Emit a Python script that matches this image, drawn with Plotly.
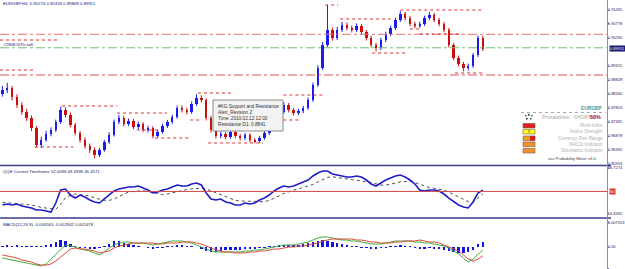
import plotly.graph_objects as go

# ---------------- DATA ----------------
bars = list(range(100))
first_open = 0.88340
closes = [
    0.88479, 0.88549, 0.88237, 0.87959, 0.87715, 0.87506, 0.87158, 0.86567, 0.86741, 0.86950,
    0.87089, 0.87367, 0.87785, 0.87611, 0.87263, 0.86984, 0.86741, 0.86532, 0.86393, 0.86219,
    0.86393, 0.86671, 0.86915, 0.87367, 0.87506, 0.87297, 0.87402, 0.87193, 0.87297, 0.87089,
    0.87158, 0.86880, 0.87019, 0.87228, 0.87367, 0.87541, 0.87854, 0.87785, 0.87715, 0.87994,
    0.88203, 0.88133, 0.87506, 0.87089, 0.86880, 0.86950, 0.86845, 0.87019, 0.86880, 0.86811,
    0.86915, 0.86741, 0.86706, 0.86811, 0.86984, 0.87158, 0.87437, 0.87715, 0.87959, 0.87785,
    0.87680, 0.87750, 0.87854, 0.88133, 0.88655, 0.89247, 0.90047, 0.90569, 0.90291, 0.90569,
    0.90743, 0.90639, 0.90569, 0.90708, 0.90499, 0.90291, 0.90047, 0.89943, 0.90221, 0.90430,
    0.90639, 0.90917, 0.91126, 0.90987, 0.90778, 0.90708, 0.90778, 0.90987, 0.91091, 0.90917,
    0.90778, 0.90569, 0.90047, 0.89595, 0.89386, 0.89247, 0.89317, 0.89699, 0.90291, 0.89911,
]
opens = [first_open] + closes[:-1]
highs = [
    0.88620, 0.88730, 0.88620, 0.88330, 0.88050, 0.87820, 0.87600, 0.87230, 0.86850, 0.87060,
    0.87180, 0.87450, 0.87900, 0.87880, 0.87700, 0.87340, 0.87060, 0.86830, 0.86620, 0.86480,
    0.86470, 0.86750, 0.87010, 0.87450, 0.87620, 0.87580, 0.87490, 0.87470, 0.87380, 0.87360,
    0.87240, 0.87220, 0.87100, 0.87300, 0.87440, 0.87620, 0.87940, 0.87950, 0.87860, 0.88080,
    0.88330, 0.88300, 0.88190, 0.87580, 0.87160, 0.87030, 0.87020, 0.87090, 0.87090, 0.86950,
    0.86990, 0.86980, 0.86810, 0.86880, 0.87060, 0.87230, 0.87510, 0.87800, 0.88060, 0.88030,
    0.87850, 0.87830, 0.87930, 0.88220, 0.88740, 0.89340, 0.90150, 0.91440, 0.90660, 0.90680,
    0.90860, 0.90830, 0.90720, 0.90800, 0.90780, 0.90570, 0.90370, 0.90120, 0.90300, 0.90510,
    0.90720, 0.91000, 0.91230, 0.91200, 0.91060, 0.90860, 0.90860, 0.91070, 0.91200, 0.91160,
    0.90990, 0.90850, 0.90640, 0.90120, 0.89680, 0.89460, 0.89400, 0.89770, 0.90380, 0.90360,
]
lows = [
    0.88250, 0.88380, 0.88120, 0.87860, 0.87620, 0.87400, 0.87050, 0.86480, 0.86460, 0.86680,
    0.86870, 0.87020, 0.87300, 0.87520, 0.87180, 0.86900, 0.86650, 0.86440, 0.86290, 0.86100,
    0.86150, 0.86330, 0.86600, 0.86860, 0.87290, 0.87220, 0.87230, 0.87120, 0.87110, 0.87010,
    0.87000, 0.86800, 0.86820, 0.86960, 0.87160, 0.87300, 0.87480, 0.87700, 0.87630, 0.87650,
    0.87930, 0.88050, 0.87420, 0.87000, 0.86790, 0.86800, 0.86760, 0.86780, 0.86800, 0.86720,
    0.86740, 0.86660, 0.86630, 0.86640, 0.86750, 0.86920, 0.87090, 0.87370, 0.87650, 0.87700,
    0.87600, 0.87610, 0.87680, 0.87790, 0.88070, 0.88590, 0.89180, 0.89980, 0.90200, 0.90220,
    0.90500, 0.90560, 0.90480, 0.90500, 0.90420, 0.90200, 0.89960, 0.89830, 0.89870, 0.90150,
    0.90360, 0.90570, 0.90850, 0.90900, 0.90700, 0.90630, 0.90640, 0.90710, 0.90920, 0.90840,
    0.90700, 0.90490, 0.89960, 0.89510, 0.89300, 0.89130, 0.89160, 0.89250, 0.89630, 0.89840,
]

# price axis labels
price_ticks = [0.91265, 0.90778, 0.90290, 0.89315, 0.88828, 0.88340, 0.87853, 0.87365, 0.86878, 0.86390, 0.85903]
price_labels = ["0.91265", "0.90778", "0.90290", "0.89315", "0.88828", "0.88340", "0.87853", "0.87365", "0.86878", "0.86390", "0.85903"]
current_price = 0.89911

# full-width dash-dot levels
dd_levels = [0.90420, 0.89950, 0.89003]
dd_colors = ["#e07070", "#70c070", "#d85858"]

# support / resistance dotted segments (start bar, end bar, level)
sr_x0 = [-0.5, -0.5, 12.3, 23.6, 27.7, 6.7, 31.5, 38.7, 40.3, 42.4, 57.9, 57.9, 66.5, 69.6, 76.2, 82.0, 84.0, 86.0, 93.3]
sr_x1 = [11.9, 6.7, 23.6, 33.9, 32.5, 14.6, 38.7, 40.7, 47.3, 53.7, 66.5, 61.4, 69.2, 80.0, 83.6, 99.1, 86.0, 94.8, 98.9]
sr_lvl = [0.90221, 0.89177, 0.87924, 0.87680, 0.87089, 0.86498, 0.86811, 0.87437, 0.88376, 0.86637,
          0.88307, 0.87437, 0.91439, 0.90952, 0.89769, 0.91265, 0.90604, 0.90430, 0.89073]

# QQE
qqe_rsi = [
    28.8, 30.4, 28.8, 30.4, 27.2, 25.7, 24.1, 21.0, 21.0, 19.4,
    17.8, 31.9, 52.3, 53.8, 44.4, 39.7, 44.4, 41.3, 36.6, 33.5,
    31.9, 38.2, 44.4, 50.7, 53.8, 55.4, 57.0, 57.0, 58.5, 55.4,
    52.3, 47.6, 49.1, 52.3, 53.8, 57.0, 60.1, 58.5, 58.5, 61.7,
    63.2, 60.1, 47.6, 38.2, 36.6, 38.2, 33.5, 31.9, 28.8, 28.8,
    31.9, 30.4, 31.9, 36.6, 39.7, 44.4, 50.7, 55.4, 58.5, 57.0,
    58.5, 61.7, 64.8, 67.9, 74.2, 78.9, 82.0, 82.0, 77.3, 75.8,
    74.2, 72.6, 72.6, 74.2, 72.6, 67.9, 61.7, 58.5, 63.2, 67.9,
    71.1, 74.2, 75.8, 72.6, 67.9, 61.7, 52.3, 50.7, 52.3, 52.3,
    50.7, 46.0, 39.7, 33.5, 28.8, 25.7, 24.1, 33.5, 47.6, 52.0,
]
qqe_trail = [
    33, 32, 31, 31, 30, 30, 29, 27, 25, 24,
    23, 22, 30, 40, 44, 46, 45, 44, 43, 40,
    38, 36, 36, 38, 42, 46, 49, 50, 51, 51,
    50, 48, 46, 45, 46, 48, 50, 52, 53, 54,
    55, 55, 54, 51, 47, 44, 41, 38, 36, 35,
    35, 34, 34, 34, 34, 36, 39, 43, 47, 50,
    52, 54, 56, 58, 61, 65, 69, 72, 73, 72,
    71, 70, 69, 68, 67, 66, 64, 62, 60, 60,
    61, 63, 65, 66, 66, 64, 61, 58, 56, 55,
    54, 52, 49, 45, 41, 37, 34, 33, 39, 46.5,
]
qqe_level = 50
qqe_ticks = [86.7274, 14.6965]
qqe_labels = ["86.7274", "14.6965"]

# MACD (values in price units)
macd_hist = [
    0.0003, 0.0004, 0.0003, 0.0004, 0.0003, 0.0002, 0.0003, 0.0002, 0.0003, 0.0006,
    0.0010, 0.0015, 0.0021, 0.0018, 0.0008, 0.0002, -0.0002, -0.0003, -0.0004, -0.0005,
    -0.0003, 0.0003, 0.0010, 0.0018, 0.0017, 0.0012, 0.0008, 0.0005, 0.0003, 0.0000,
    -0.0003, -0.0004, -0.0003, -0.0001, 0.0001, 0.0003, 0.0005, 0.0004, 0.0003, 0.0002,
    0.0000, -0.0006, -0.0012, -0.0015, -0.0014, -0.0012, -0.0010, -0.0009, -0.0008, -0.0008,
    -0.0007, -0.0006, -0.0005, -0.0003, -0.0001, 0.0001, 0.0003, 0.0005, 0.0006, 0.0005,
    0.0005, 0.0006, 0.0008, 0.0012, 0.0016, 0.0019, 0.0020, 0.0018, 0.0014, 0.0011,
    0.0008, 0.0005, 0.0003, 0.0001, -0.0001, -0.0003, -0.0005, -0.0005, -0.0003, -0.0001,
    0.0001, 0.0003, 0.0004, 0.0003, 0.0001, -0.0002, -0.0004, -0.0004, -0.0003, -0.0004,
    -0.0006, -0.0009, -0.0013, -0.0016, -0.0018, -0.0018, -0.0015, -0.0008, 0.0008, 0.0015,
]
macd_green = [
    -0.00336, -0.00367, -0.00397, -0.00428, -0.00458, -0.00489, -0.00519, -0.00550, -0.00580, -0.00519,
    -0.00367, -0.00214, -0.00061, 0.00061, 0.00031, 0.00000, -0.00061, -0.00092, -0.00122, -0.00183,
    -0.00244, -0.00153, -0.00031, 0.00061, 0.00122, 0.00153, 0.00153, 0.00122, 0.00122, 0.00122,
    0.00092, 0.00061, 0.00092, 0.00122, 0.00153, 0.00183, 0.00183, 0.00183, 0.00153, 0.00122,
    0.00061, 0.00000, -0.00061, -0.00122, -0.00153, -0.00153, -0.00153, -0.00153, -0.00153, -0.00153,
    -0.00122, -0.00122, -0.00092, -0.00092, -0.00061, -0.00031, 0.00000, 0.00031, 0.00061, 0.00061,
    0.00061, 0.00092, 0.00122, 0.00153, 0.00214, 0.00275, 0.00306, 0.00306, 0.00275, 0.00244,
    0.00214, 0.00214, 0.00183, 0.00183, 0.00153, 0.00122, 0.00092, 0.00092, 0.00092, 0.00122,
    0.00153, 0.00183, 0.00183, 0.00183, 0.00183, 0.00153, 0.00153, 0.00122, 0.00122, 0.00092,
    0.00061, 0.00031, -0.00031, -0.00122, -0.00214, -0.00336, -0.00458, -0.00367, -0.00214, -0.00092,
]
macd_red = [
    -0.00244, -0.00275, -0.00306, -0.00336, -0.00397, -0.00428, -0.00458, -0.00519, -0.00550, -0.00550,
    -0.00519, -0.00428, -0.00306, -0.00183, -0.00061, -0.00031, -0.00061, -0.00061, -0.00092, -0.00122,
    -0.00183, -0.00153, -0.00122, -0.00031, 0.00031, 0.00061, 0.00092, 0.00122, 0.00122, 0.00122,
    0.00122, 0.00122, 0.00092, 0.00092, 0.00122, 0.00122, 0.00122, 0.00153, 0.00153, 0.00153,
    0.00122, 0.00092, 0.00031, -0.00031, -0.00092, -0.00122, -0.00153, -0.00153, -0.00183, -0.00183,
    -0.00183, -0.00153, -0.00153, -0.00122, -0.00122, -0.00092, -0.00061, -0.00061, -0.00031, 0.00000,
    0.00000, 0.00031, 0.00031, 0.00061, 0.00092, 0.00122, 0.00183, 0.00214, 0.00244, 0.00244,
    0.00244, 0.00244, 0.00244, 0.00214, 0.00214, 0.00183, 0.00153, 0.00153, 0.00122, 0.00122,
    0.00122, 0.00153, 0.00153, 0.00183, 0.00183, 0.00183, 0.00214, 0.00183, 0.00153, 0.00153,
    0.00122, 0.00061, 0.00000, -0.00061, -0.00122, -0.00244, -0.00367, -0.00428, -0.00367, -0.00275,
]
macd_ticks = [0.007553, 0.0, -0.0065]
macd_labels = ["0.007553", "0.00", "-0.0065"]

# texts
chart_title = "EURGBP,H4  0.90274 0.90318 0.89868 0.89911"
order_label = "#2908#670.sell"
qqe_title = "QQE Current Timeframe 52.0088 49.3398 46.4571"
macd_title = "MACD(12,26,9) -0.000563 -0.002942 0.001478"
tooltip_lines = ["#KG Support and Resistance", "Alert_Revision 2", "Time: 2010.02.12 12:00", "Resistance D1: 0.8841"]
info_symbol = "EURGBP"
info_prob = "Probabilities : SHORT"
info_pct = "68%"
info_rows = ["Multi-Infos", "Indice Strength", "Currency Pair Range", "MACD Indicator", "Stochastic Indicator"]
info_colors = ["#e02020", "#ffff20", "#f0a020", "#f09030", "#f09030"]
info_box_text = ["", "5", "", "", ""]
info_footer = "xxx Probability Meter v3.0"

# ---------------- LAYOUT HELPERS ----------------
W, H = 625, 269
FONT = "Liberation Sans, Arial, sans-serif"
def px(x):
    return x / W
def py(y):
    return 1 - y / H

BULL = "#1c1cf0"
BEAR = "#cc1010"

fig = go.Figure()

# candle bodies
bx, bb, bh, rx, rb, rh = [], [], [], [], [], []
wbx, wby, wrx, wry = [], [], [], []
for i, o, h, l, c in zip(bars, opens, highs, lows, closes):
    if c >= o:
        bx.append(i); bb.append(o); bh.append(max(c - o, 0.00006))
        wbx += [i, i, None]; wby += [l, h, None]
    else:
        rx.append(i); rb.append(c); rh.append(max(o - c, 0.00006))
        wrx += [i, i, None]; wry += [l, h, None]

fig.add_trace(go.Scatter(x=wbx, y=wby, mode="lines", line=dict(color=BULL, width=1), hoverinfo="skip", yaxis="y"))
fig.add_trace(go.Scatter(x=wrx, y=wry, mode="lines", line=dict(color=BEAR, width=1), hoverinfo="skip", yaxis="y"))
fig.add_trace(go.Bar(x=bx, y=bh, base=bb, width=0.5, marker=dict(color=BULL, line=dict(width=0)), hoverinfo="skip", yaxis="y"))
fig.add_trace(go.Bar(x=rx, y=rh, base=rb, width=0.5, marker=dict(color=BEAR, line=dict(width=0)), hoverinfo="skip", yaxis="y"))

# QQE
fig.add_trace(go.Scatter(x=bars, y=qqe_trail, mode="lines", line=dict(color="#505050", width=1, dash="dot"), hoverinfo="skip", yaxis="y2"))
fig.add_trace(go.Scatter(x=bars, y=qqe_rsi, mode="lines", line=dict(color="#1e1ec8", width=1.6), hoverinfo="skip", yaxis="y2"))

# MACD
fig.add_trace(go.Bar(x=bars, y=macd_hist, width=0.5, marker=dict(color="#1414e6", line=dict(width=0)), hoverinfo="skip", yaxis="y3"))
fig.add_trace(go.Scatter(x=bars, y=macd_green, mode="lines", line=dict(color="#3cae3c", width=1), hoverinfo="skip", yaxis="y3"))
fig.add_trace(go.Scatter(x=bars, y=macd_red, mode="lines", line=dict(color="#e04a3a", width=1), hoverinfo="skip", yaxis="y3"))

shapes = []
# dash-dot levels
for lv, col in zip(dd_levels, dd_colors):
    shapes.append(dict(type="line", xref="paper", yref="y", x0=0, x1=px(607), y0=lv, y1=lv,
                       line=dict(color=col, width=1, dash="dashdot")))
# S/R dotted segments
for a, b, lv in zip(sr_x0, sr_x1, sr_lvl):
    shapes.append(dict(type="line", xref="x", yref="y", x0=a, x1=b, y0=lv, y1=lv,
                       line=dict(color="#e03030", width=1, dash="dot")))
# QQE 50 level
shapes.append(dict(type="line", xref="paper", yref="y2", x0=0, x1=px(607), y0=qqe_level, y1=qqe_level,
                   line=dict(color="#d04848", width=1)))
# separators
for yy in (165.5, 218.0):
    shapes.append(dict(type="line", xref="paper", yref="paper", x0=0, x1=px(611), y0=py(yy), y1=py(yy),
                       line=dict(color="#3a3a90", width=1.5)))
# right axis line
shapes.append(dict(type="line", xref="paper", yref="paper", x0=px(607.5), x1=px(607.5), y0=0, y1=1,
                   line=dict(color="#8a8ac8", width=1)))
# tooltip box
shapes.append(dict(type="rect", xref="paper", yref="paper", x0=px(213), x1=px(283), y0=py(131), y1=py(100),
                   fillcolor="#f3f3f3", line=dict(color="#8c8c8c", width=1), layer="above"))
# info panel dotted separator
shapes.append(dict(type="line", xref="paper", yref="paper", x0=px(521), x1=px(606), y0=py(112.5), y1=py(112.5),
                   line=dict(color="#a8a8a8", width=1, dash="dot"), layer="above"))
# info icon
for (x0, y0, c) in [(525, 115, "#3a7a3a"), (528, 114, "#202020"), (531, 115, "#3a7a3a"), (526, 118, "#202020"), (530, 118, "#3a7a3a")]:
    shapes.append(dict(type="rect", xref="paper", yref="paper", x0=px(x0), x1=px(x0 + 1.6), y0=py(y0 + 1.6), y1=py(y0),
                       fillcolor=c, line=dict(width=0), layer="above"))
# info row boxes
row_y = [125.7, 131.7, 138.3, 144.3, 150.7]
for yy, col in zip(row_y, info_colors):
    shapes.append(dict(type="rect", xref="paper", yref="paper", x0=px(523), x1=px(535), y0=py(yy + 2.3), y1=py(yy - 2.3),
                       fillcolor=col, line=dict(color="#806040", width=0.6), layer="above"))
shapes.append(dict(type="rect", xref="paper", yref="paper", x0=px(530), x1=px(535), y0=py(140.6), y1=py(136.0),
                   fillcolor="#d02020", line=dict(width=0), layer="above"))

ann = []
def txt(x, y, s, size=4.6, color="#202060", xanchor="left", yanchor="middle", yref="paper", bold=False, bg=None):
    d = dict(x=px(x), y=y if yref != "paper" else py(y), xref="paper", yref=yref, text=("<b>%s</b>" % s) if bold else s,
             showarrow=False, xanchor=xanchor, yanchor=yanchor, align="left",
             font=dict(family=FONT, size=size, color=color), borderpad=0)
    if bg:
        d["bgcolor"] = bg
    ann.append(d)

txt(2, 3, chart_title, size=4.3, color="#202080")
txt(2, 45, order_label, size=4.4, color="#202080")
txt(2, 171, qqe_title, size=4.3, color="#202060")
txt(2, 224, macd_title, size=4.3, color="#202060")
# tooltip text
ann.append(dict(x=px(216), y=py(102), xref="paper", yref="paper", text="<br>".join(tooltip_lines), showarrow=False,
                xanchor="left", yanchor="top", align="left", font=dict(family=FONT, size=4.7, color="#303030")))
# info panel
txt(603, 109, info_symbol, size=4.8, color="#3a9898", xanchor="right", bold=True)
txt(541, 117, info_prob, size=5, color="#a8a8a8")
txt(589, 117, info_pct, size=5.4, color="#a0183a", bold=True)
for yy, s, bt in zip(row_y, info_rows, info_box_text):
    txt(604, yy, s, size=4.8, color="#b0b0b0", xanchor="right")
    if bt:
        txt(529, yy, bt, size=4, color="#202020", xanchor="center")
txt(598, 158, info_footer, size=4.2, color="#404040", xanchor="right")
# axis boxes
txt(608.5, current_price, "0.89911", size=4.0, color="#ffffff", yref="y", bg="#1a1a70")
txt(608.5, qqe_level, "50", size=4.2, color="#ffffff", yref="y2", bg="#e03030")

axis_common = dict(side="right", anchor="x", showgrid=False, zeroline=False, showline=False,
                   ticks="outside", ticklen=1, tickcolor="#7070a8", automargin=False,
                   ticklabelstandoff=-2,
                   tickfont=dict(family=FONT, size=4.0, color="#202068"))

fig.update_layout(
    width=W, height=H,
    margin=dict(l=0, r=0, t=0, b=0),
    paper_bgcolor="white", plot_bgcolor="white",
    showlegend=False, barmode="overlay", bargap=0,
    xaxis=dict(domain=[0, px(607)], range=[-0.5, 124.6], visible=False, fixedrange=True),
    yaxis=dict(domain=[py(165), 1], range=[0.85871, 0.91613], tickvals=price_ticks, ticktext=price_labels, **axis_common),
    yaxis2=dict(domain=[py(217), py(167)], range=[9.99, 88.29], tickvals=qqe_ticks, ticktext=qqe_labels, **axis_common),
    yaxis3=dict(domain=[0, py(219)], range=[-0.006721, 0.008554], tickvals=macd_ticks, ticktext=macd_labels, **axis_common),
    shapes=shapes, annotations=ann,
)

fig.write_html("out.html")
